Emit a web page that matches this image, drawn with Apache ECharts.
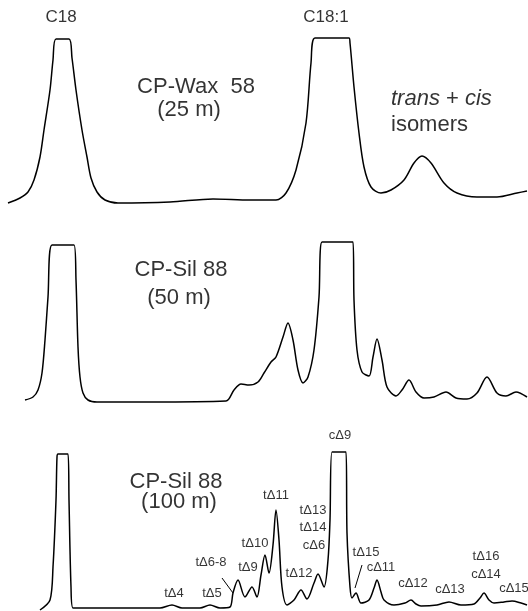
<!DOCTYPE html>
<html>
<head>
<meta charset="utf-8">
<script src="https://cdn.jsdelivr.net/npm/echarts@6/dist/echarts.min.js"></script>
<style>
html, body { margin: 0; padding: 0; background: #fff; }
#main { width: 528px; height: 611px; }
</style>
</head>
<body>
<div id="main"></div>
<script>
// retention position (x) and detector response above baseline (y)

// CP-Wax 58 (25 m)
var waxTime = [8, 20, 28, 34, 40, 44, 50, 53, 56, 69, 72, 76, 82, 87, 91, 97, 105, 118, 170, 213, 250, 276, 286, 296, 306, 311, 315, 349, 350, 354, 359, 364, 371, 381, 391, 404, 414, 422, 431, 444, 457, 477, 497, 517, 527];
var waxSignal = [7, 12, 18, 30, 53, 80, 120, 150, 171, 171, 152, 120, 80, 53, 32, 18, 10, 7, 8, 11, 10, 10, 17, 40, 87, 147, 172, 172, 167, 123, 77, 43, 23, 17, 20, 30, 47, 54, 47, 27, 17, 13, 13, 17, 19];

// CP-Sil 88 (50 m)
var sil50Time = [25, 33, 38, 42, 45, 48, 52, 74, 76, 78, 80, 83, 88, 97, 150, 226, 234, 241, 249, 258, 264, 271, 276, 283, 288, 293, 298, 303, 308, 314, 319, 322, 353, 354, 357, 362, 369, 373, 377, 382, 387, 396, 402, 409, 416, 424, 434, 446, 456, 467, 477, 487, 497, 506, 516, 527];
var sil50Signal = [10, 13, 20, 37, 70, 113, 165, 165, 130, 63, 33, 17, 10, 8, 8, 9, 20, 26, 25, 28, 37, 48, 53, 73, 87, 70, 40, 27, 33, 60, 113, 168, 168, 110, 60, 38, 34, 53, 71, 50, 23, 14, 20, 30, 18, 12, 13, 18, 12, 11, 17, 33, 17, 14, 18, 13];

// CP-Sil 88 (100 m)
var sil100Time = [40, 50, 53, 56, 57, 58, 68, 69, 71, 73, 90, 160, 172, 182, 200, 210, 220, 230, 233, 238, 245, 252, 257, 261, 265, 269, 273, 276, 279, 282, 287, 294, 301, 307, 314, 318, 324, 328, 330, 332, 346, 347, 350, 352, 356, 361, 369, 374, 377, 381, 384, 394, 405, 411, 416, 421, 437, 449, 461, 474, 480, 484, 489, 494, 504, 512, 521, 527];
var sil100Signal = [1, 11, 44, 111, 154, 157, 157, 111, 24, 3, 3, 3, 6, 3, 3, 6, 3, 4, 18, 31, 14, 24, 14, 36, 56, 38, 66, 101, 71, 24, 6, 11, 21, 12, 28, 37, 24, 51, 91, 159, 159, 78, 24, 13, 18, 8, 11, 23, 31, 19, 11, 6, 8, 11, 7, 5, 6, 9, 6, 7, 13, 18, 11, 8, 9, 10, 8, 6];

// peak labels: text, x, y
var waxLabels = [['C18', 61, 193], ['C18:1', 326, 193]];
var waxColumn = [['CP-Wax  58', 196, 123], ['(25 m)', 189, 100]];
var waxIsomers = [['{i|trans} + {i|cis}', 391, 111], ['isomers', 391, 85]];
var sil50Column = [['CP-Sil 88', 181, 140], ['(50 m)', 179, 112]];
var sil100Column = [['CP-Sil 88', 176, 129], ['(100 m)', 179, 109]];
var sil100Labels = [
    ['tΔ4', 174, 18], ['tΔ5', 212, 18], ['tΔ6-8', 211, 49], ['tΔ9', 248, 44],
    ['tΔ10', 255, 68], ['tΔ11', 276, 116], ['tΔ12', 299, 38], ['tΔ13', 313, 101],
    ['tΔ14', 313, 84], ['cΔ6', 314, 66], ['cΔ9', 340, 176], ['tΔ15', 366, 59],
    ['cΔ11', 381, 44], ['cΔ12', 413, 28], ['cΔ13', 450, 22], ['tΔ16', 486, 55],
    ['cΔ14', 486, 37], ['cΔ15', 514, 23]
];
var leader68 = [[222, 33], [233, 18]];
var leader15 = [[362, 46], [355, 23]];

var font = '"Liberation Sans", Arial, sans-serif';

var zip = function (xs, ys) {
    var out = [];
    for (var i = 0; i < xs.length; i++) out.push([xs[i], ys[i]]);
    return out;
};

var trace = function (xs, ys, idx) {
    return {
        type: 'line',
        xAxisIndex: idx,
        yAxisIndex: idx,
        data: zip(xs, ys),
        showSymbol: false,
        smooth: 0.3,
        clip: false,
        silent: true,
        lineStyle: { color: '#000', width: 1.5 }
    };
};

var leader = function (pts, idx) {
    return {
        type: 'line',
        xAxisIndex: idx,
        yAxisIndex: idx,
        data: pts,
        showSymbol: false,
        clip: false,
        silent: true,
        lineStyle: { color: '#000', width: 1 }
    };
};

var labels = function (list, idx, size, align) {
    return {
        type: 'scatter',
        xAxisIndex: idx,
        yAxisIndex: idx,
        symbolSize: 0,
        clip: false,
        silent: true,
        data: list.map(function (d) { return [d[1], d[2], d[0]]; }),
        label: {
            show: true,
            position: [0, 0],
            align: align || 'center',
            verticalAlign: 'middle',
            color: '#000',
            fontFamily: font,
            fontSize: size,
            formatter: function (p) { return p.data[2]; },
            rich: {
                i: { fontStyle: 'italic', fontFamily: font, fontSize: size, color: '#000' }
            }
        }
    };
};

var gridBox = [
    { left: 0, right: 0, top: 0, height: 210 },
    { left: 0, right: 0, top: 210, height: 200 },
    { left: 0, right: 0, top: 410, height: 201 }
];

var xAxes = gridBox.map(function (g, i) {
    return { type: 'value', gridIndex: i, min: 0, max: 528, show: false };
});
var yAxes = gridBox.map(function (g, i) {
    return { type: 'value', gridIndex: i, min: 0, max: g.height, show: false };
});

var myChart = echarts.init(document.getElementById('main'), null, { renderer: 'canvas' });

myChart.setOption({
    backgroundColor: '#fff',
    animation: false,
    grid: gridBox,
    xAxis: xAxes,
    yAxis: yAxes,
    series: [
        trace(waxTime, waxSignal, 0),
        trace(sil50Time, sil50Signal, 1),
        trace(sil100Time, sil100Signal, 2),
        leader(leader68, 2),
        leader(leader15, 2),
        labels(waxLabels, 0, 17),
        labels(waxColumn, 0, 22),
        labels(waxIsomers, 0, 22, 'left'),
        labels(sil50Column, 1, 22),
        labels(sil100Column, 2, 22),
        labels(sil100Labels, 2, 13)
    ]
});
</script>
</body>
</html>
